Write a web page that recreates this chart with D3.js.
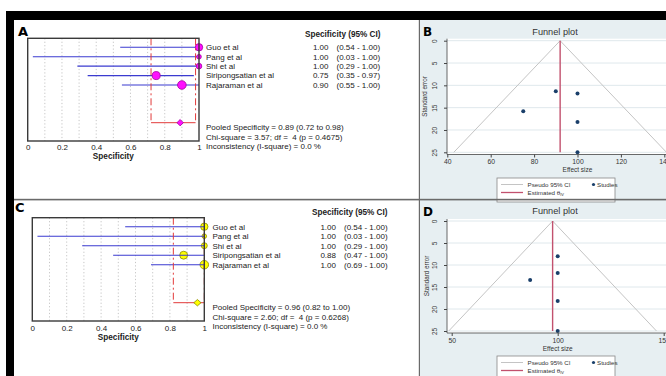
<!DOCTYPE html>
<html><head><meta charset="utf-8">
<script src="https://cdn.jsdelivr.net/npm/d3@7"></script>
<style>
body{margin:0;background:#fff}
svg{display:block;font-family:"Liberation Sans",Arial,sans-serif}
text{white-space:pre}
</style>
</head><body>
<svg id="c" width="666" height="376"></svg>
<script>
// ---------------- DATA ----------------
const studies = ["Guo et al", "Pang et al", "Shi et al", "Siripongsatian et al", "Rajaraman et al"];

const specA   = [1.00, 1.00, 1.00, 0.75, 0.90];
const lowA    = [0.54, 0.03, 0.29, 0.35, 0.55];
const highA   = [1.00, 1.00, 1.00, 0.97, 1.00];
const weightA = [22.3, 8.7, 12.7, 26.1, 30.2];
const pooledA = [0.89, 0.72, 0.98];
const statsA  = ["Pooled Specificity = 0.89 (0.72 to 0.98)",
                 "Chi-square = 3.57; df =  4 (p = 0.4675)",
                 "Inconsistency (I-square) = 0.0 %"];

const specC   = [1.00, 1.00, 1.00, 0.88, 1.00];
const lowC    = [0.54, 0.03, 0.29, 0.47, 0.69];
const highC   = [1.00, 1.00, 1.00, 1.00, 1.00];
const weightC = [21.9, 8.5, 14.4, 25.6, 29.6];
const pooledC = [0.96, 0.82, 1.00];
const statsC  = ["Pooled Specificity = 0.96 (0.82 to 1.00)",
                 "Chi-square = 2.60; df =  4 (p = 0.6268)",
                 "Inconsistency (I-square) = 0.0 %"];

const forestTicks = [0, 0.2, 0.4, 0.6, 0.8, 1];
const forestGrid  = [0.1, 0.2, 0.3, 0.4, 0.5, 0.6, 0.7, 0.8, 0.9];

const funnelEffB = [90, 100, 75, 100, 100];
const funnelSeB  = [11.3, 11.8, 15.8, 18.2, 25.0];
const thetaB     = 92;
const funnelTicksB = [40, 60, 80, 100, 120, 140];

const funnelEffD = [100, 100, 87, 100, 100];
const funnelSeD  = [8.0, 11.8, 13.4, 18.2, 25.0];
const thetaD     = 97.6;
const funnelTicksD = [50, 100, 150];

const seTicks = [0, 5, 10, 15, 20, 25];

// ---------------- FRAME ----------------
const svg = d3.select("#c");
svg.append("rect").attr("x",0).attr("y",0).attr("width",666).attr("height",376).attr("fill","#fff");

const panelBg = "#e7eff2";
svg.append("rect").attr("x",420).attr("y",20).attr("width",246).attr("height",179).attr("fill",panelBg);
svg.append("rect").attr("x",420).attr("y",200).attr("width",246).attr("height",176).attr("fill",panelBg);

// ---------------- FOREST ----------------
function forest(cfg){
  const g = svg.append("g");
  const x = d3.scaleLinear().domain([0,1]).range([cfg.x0, cfg.x1]);
  const y = d3.scaleLinear().domain([0,8]).range([cfg.row0, cfg.pooledY]);
  const r = d3.scaleSqrt().domain([0,30]).range([0,4.3]);

  g.append("text").attr("x",cfg.labX).attr("y",cfg.labY).attr("font-size",13).attr("font-weight","bold")
    .attr("font-family","DejaVu Sans, sans-serif").text(cfg.label);

  g.selectAll(".gd").data(forestGrid).join("line")
    .attr("x1",d=>x(d)).attr("x2",d=>x(d)).attr("y1",cfg.top).attr("y2",cfg.bot)
    .attr("stroke","#b8b8b8").attr("stroke-width",0.8).attr("stroke-dasharray","1.2,2.2");

  const lineLayer = g.append("g"), markLayer = g.append("g");
  if (cfg.linesOnTop) lineLayer.raise(); else markLayer.raise();

  lineLayer.selectAll("line").data(studies).join("line")
    .attr("x1",(d,i)=>x(cfg.low[i])).attr("x2",(d,i)=>x(cfg.high[i]))
    .attr("y1",(d,i)=>y(i)).attr("y2",(d,i)=>y(i))
    .attr("stroke","#3b3bd0").attr("stroke-width",1.1);

  markLayer.selectAll("circle").data(studies).join("circle")
    .attr("cx",(d,i)=>x(cfg.spec[i])).attr("cy",(d,i)=>y(i)).attr("r",(d,i)=>r(cfg.weight[i]))
    .attr("fill",cfg.fill).attr("stroke",cfg.stroke).attr("stroke-width",0.8);

  const red = g.append("g");
  [cfg.pooled[1], cfg.pooled[2]].forEach(v=>{
    red.append("line").attr("x1",x(v)).attr("x2",x(v)).attr("y1",cfg.top).attr("y2",cfg.pooledY)
      .attr("stroke","#e23a3a").attr("stroke-width",1).attr("stroke-dasharray","7,3,2,3");
  });
  red.append("line").attr("x1",x(cfg.pooled[1])).attr("x2",x(cfg.pooled[2]))
    .attr("y1",cfg.pooledY).attr("y2",cfg.pooledY).attr("stroke","#e23a3a").attr("stroke-width",1);
  const px = x(cfg.pooled[0]), py = cfg.pooledY, dw = cfg.dw, dh = cfg.dh;
  g.append("path").attr("d",`M${px-dw},${py}L${px},${py-dh}L${px+dw},${py}L${px},${py+dh}Z`)
    .attr("fill",cfg.fill).attr("stroke",cfg.stroke).attr("stroke-width",0.8);

  g.append("rect").attr("x",cfg.x0).attr("y",cfg.top).attr("width",cfg.x1-cfg.x0).attr("height",cfg.bot-cfg.top)
    .attr("fill","none").attr("stroke","#3a3a3a").attr("stroke-width",1.4);

  const ax = g.append("g").attr("transform",`translate(0,${cfg.tickY})`)
    .call(d3.axisBottom(x).tickValues(forestTicks).tickSize(0).tickPadding(0).tickFormat(d3.format("~g")));
  ax.select(".domain").remove();
  ax.selectAll("text").attr("font-size",8).attr("fill","#222").attr("font-family","Liberation Sans, Arial, sans-serif").attr("dy","0.35em").attr("y",0);
  g.append("text").attr("x",(cfg.x0+cfg.x1)/2).attr("y",cfg.titleY).attr("dy","0.35em").attr("text-anchor","middle")
    .attr("font-size",8.2).attr("font-weight","bold").attr("fill","#222").text("Specificity");

  g.append("text").attr("x",cfg.headX).attr("y",cfg.headY).attr("dy","0.35em").attr("font-size",8.2)
    .attr("font-weight","bold").attr("fill","#222").text("Specificity (95% CI)");
  g.selectAll(".nm").data(studies).join("text").attr("x",cfg.textX).attr("y",(d,i)=>y(i)).attr("dy","0.35em")
    .attr("font-size",8).attr("fill","#222").text(d=>d);
  g.selectAll(".vl").data(studies).join("text").attr("x",cfg.valX).attr("y",(d,i)=>y(i)).attr("dy","0.35em")
    .attr("text-anchor","end").attr("font-size",8).attr("fill","#222").text((d,i)=>cfg.spec[i].toFixed(2));
  g.selectAll(".ci").data(studies).join("text").attr("x",cfg.ciX).attr("y",(d,i)=>y(i)).attr("dy","0.35em")
    .attr("font-size",8).attr("fill","#222")
    .text((d,i)=>`(${cfg.low[i].toFixed(2)} - ${cfg.high[i].toFixed(2)})`);
  g.selectAll(".st").data(cfg.stats).join("text").attr("x",cfg.textX).attr("y",(d,i)=>cfg.statY+i*9.3)
    .attr("dy","0.35em").attr("font-size",8).attr("fill","#222").text(d=>d);
}

forest({label:"A", labX:18, labY:36, x0:27.7, x1:199, top:38.3, bot:141, row0:47.3, pooledY:122.7,
  spec:specA, low:lowA, high:highA, weight:weightA, pooled:pooledA, stats:statsA,
  fill:"#ff10ff", stroke:"#a000a0", dw:3.2, dh:3.2, linesOnTop:false,
  tickY:146.7, titleY:156.5, headX:305, headY:34, textX:206, valX:328.5, ciX:336.5, statY:127.5});

forest({label:"C", labX:15, labY:212, x0:32.3, x1:204.3, top:217.7, bot:321, row0:226.7, pooledY:302.7,
  spec:specC, low:lowC, high:highC, weight:weightC, pooled:pooledC, stats:statsC,
  fill:"#ffff00", stroke:"#8a8a00", dw:3.6, dh:3.2, linesOnTop:true,
  tickY:327.7, titleY:337, headX:312, headY:212.5, textX:212.5, valX:336, ciX:344, statY:307.5});

// ---------------- FUNNEL ----------------
function funnel(cfg){
  const g = svg.append("g");
  const x = d3.scaleLinear().domain(cfg.xDomain).range(cfg.xRange);
  const y = d3.scaleLinear().domain([0,25]).range(cfg.yRange);

  g.append("rect").attr("x",cfg.axX).attr("y",cfg.yRange[0]-2).attr("width",666-cfg.axX)
    .attr("height",cfg.axY-cfg.yRange[0]+2).attr("fill","#fff");
  g.selectAll(".gr").data(seTicks).join("line").attr("x1",cfg.axX).attr("x2",666)
    .attr("y1",d=>y(d)).attr("y2",d=>y(d)).attr("stroke","#dfe8ec").attr("stroke-width",1);

  const th = cfg.theta;
  g.append("path").attr("d",`M${x(th-1.96*25)},${y(25)}L${x(th)},${y(0)}L${x(th+1.96*25)},${y(25)}`)
    .attr("fill","none").attr("stroke","#c4c4c4").attr("stroke-width",1);
  g.append("line").attr("x1",x(th)).attr("x2",x(th)).attr("y1",y(0)).attr("y2",y(25))
    .attr("stroke","#c2516e").attr("stroke-width",1.4);
  g.selectAll("circle").data(cfg.eff).join("circle").attr("cx",d=>x(d)).attr("cy",(d,i)=>y(cfg.se[i]))
    .attr("r",2).attr("fill","#1a3f6a");

  g.append("line").attr("x1",cfg.axX).attr("x2",cfg.axX).attr("y1",cfg.yRange[0]-2).attr("y2",cfg.axY)
    .attr("stroke","#444").attr("stroke-width",0.8);
  g.append("line").attr("x1",cfg.axX).attr("x2",666).attr("y1",cfg.axY).attr("y2",cfg.axY)
    .attr("stroke","#444").attr("stroke-width",0.8);
  const xa = g.append("g").attr("transform",`translate(0,${cfg.axY})`)
    .call(d3.axisBottom(x).tickValues(cfg.xTicks).tickSize(3).tickPadding(2).tickFormat(d3.format("d")));
  xa.select(".domain").remove();
  xa.selectAll("line").attr("stroke","#444");
  xa.selectAll("text").attr("font-size",6.8).attr("fill","#333");
  const ya = g.append("g").attr("transform",`translate(${cfg.axX},0)`)
    .call(d3.axisLeft(y).tickValues(seTicks).tickSize(3).tickFormat(d3.format("d")));
  ya.select(".domain").remove();
  ya.selectAll("line").attr("stroke","#444");
  ya.selectAll("text").attr("font-size",6.5).attr("fill","#333")
    .attr("x",0).attr("dy",0).attr("text-anchor","middle")
    .attr("transform",`translate(${-cfg.axX+cfg.tickLabX},0) rotate(-90)`).attr("y",2);

  g.append("text").attr("transform",`translate(${cfg.ytitleX},${(cfg.yRange[0]+cfg.yRange[1])/2}) rotate(-90)`)
    .attr("text-anchor","middle").attr("font-size",6.3).attr("fill","#333").text("Standard error");
  g.append("text").attr("x",x(cfg.xMid)).attr("y",cfg.xtitleY).attr("dy","0.35em").attr("text-anchor","middle")
    .attr("font-size",6.5).attr("fill","#333").text("Effect size");
  g.append("text").attr("x",555).attr("y",cfg.titleY).attr("dy","0.35em").attr("text-anchor","middle")
    .attr("font-size",9.2).attr("fill","#333").text("Funnel plot");
  g.append("text").attr("x",cfg.labX).attr("y",cfg.labY).attr("font-size",12).attr("font-weight","bold")
    .attr("font-family","DejaVu Sans, sans-serif").text(cfg.label);

  const L = g.append("g");
  L.append("rect").attr("x",497).attr("y",cfg.legY).attr("width",118).attr("height",24)
    .attr("fill","#fff").attr("stroke","#888").attr("stroke-width",0.8);
  const l1 = cfg.legY+6.5, l2 = cfg.legY+14.5;
  L.append("line").attr("x1",501).attr("x2",523).attr("y1",l1).attr("y2",l1).attr("stroke","#c4c4c4").attr("stroke-width",1);
  L.append("text").attr("x",527.5).attr("y",l1).attr("dy","0.35em").attr("font-size",6.2).attr("fill","#333").text("Pseudo 95% CI");
  L.append("circle").attr("cx",593.5).attr("cy",l1).attr("r",1.6).attr("fill","#1a3f6a");
  L.append("text").attr("x",597).attr("y",l1).attr("dy","0.35em").attr("font-size",6.2).attr("fill","#333").text("Studies");
  L.append("line").attr("x1",501).attr("x2",523).attr("y1",l2).attr("y2",l2).attr("stroke","#c2516e").attr("stroke-width",1.3);
  const t2 = L.append("text").attr("x",527.5).attr("y",l2).attr("dy","0.35em").attr("font-size",6.2).attr("fill","#333");
  t2.append("tspan").text("Estimated θ");
  t2.append("tspan").attr("font-size",4).attr("dy","1.2").text("IV");
}

funnel({label:"B", labX:423, labY:36, xDomain:[40,140], xRange:[447.3,664.3], yRange:[40.7,152.3],
  theta:thetaB, eff:funnelEffB, se:funnelSeB, xTicks:funnelTicksB, xMid:100,
  axX:447, axY:154.5, tickLabX:435, ytitleX:427, xtitleY:170, titleY:31.5, legY:178});

funnel({label:"D", labX:423, labY:216, xDomain:[50,150], xRange:[451.7,663.7], yRange:[221,331],
  theta:thetaD, eff:funnelEffD, se:funnelSeD, xTicks:funnelTicksD, xMid:100,
  axX:447, axY:333, tickLabX:435, ytitleX:429, xtitleY:349, titleY:211, legY:356});

svg.append("rect").attr("x",14).attr("y",198.8).attr("width",652).attr("height",1.6).attr("fill","#6a6a6a");
svg.append("rect").attr("x",418.8).attr("y",20).attr("width",1.2).attr("height",356).attr("fill","#6a6a6a");
svg.append("rect").attr("x",6).attr("y",11).attr("width",660).attr("height",9).attr("fill","#000");
svg.append("rect").attr("x",6).attr("y",11).attr("width",8).attr("height",365).attr("fill","#000");
</script>
</body></html>
